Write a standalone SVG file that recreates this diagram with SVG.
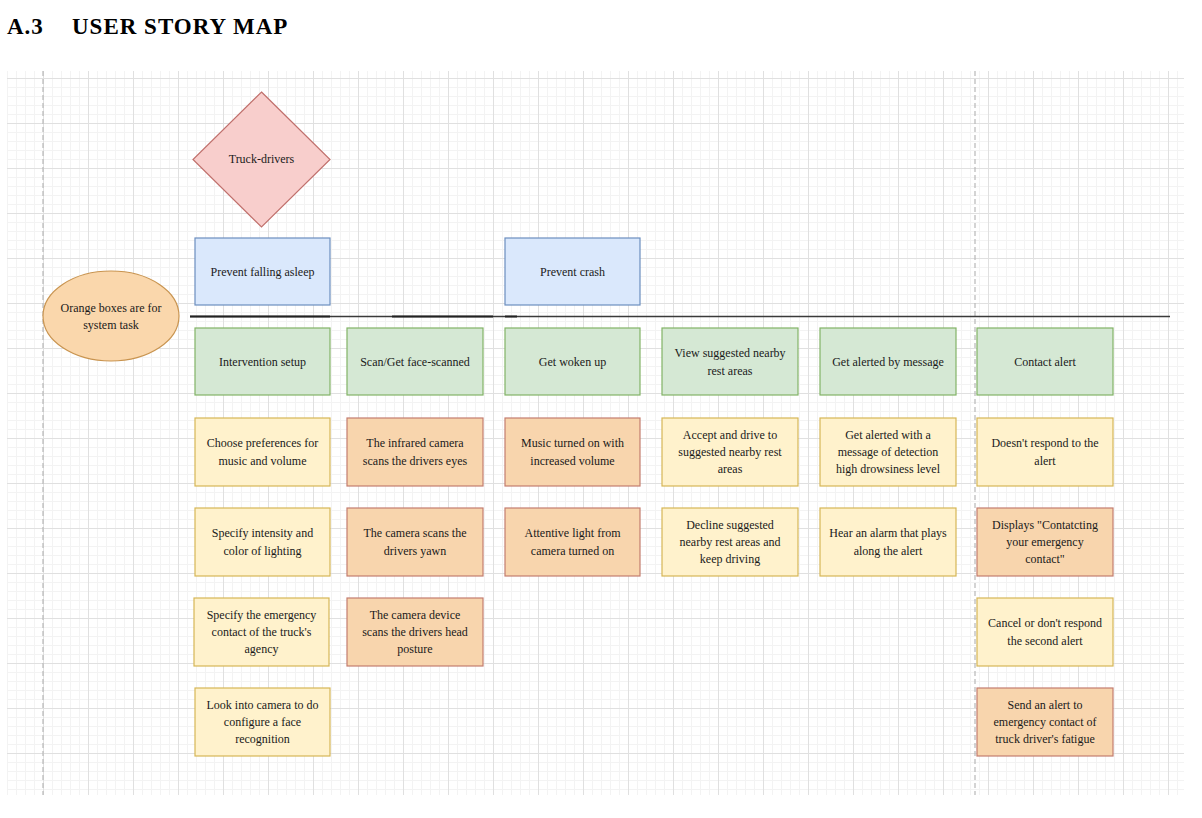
<svg xmlns="http://www.w3.org/2000/svg" width="1202" height="818" viewBox="0 0 1202 818">
<style>
text{font-family:"Liberation Serif","Times New Roman",serif;font-size:12px;fill:#1a1a1a;text-anchor:middle;dominant-baseline:central}
.title{font-size:23px;font-weight:bold;text-anchor:start;dominant-baseline:auto;fill:#000;letter-spacing:1px}
.green{fill:#d5e8d4;stroke:#82b366;stroke-width:1.2}
.blue{fill:#dae8fc;stroke:#6c8ebf;stroke-width:1.2}
.yellow{fill:#fff2cc;stroke:#d6b656;stroke-width:1.2}
.sys{fill:#f8d5ad;stroke:#c47d6f;stroke-width:1.2}
.dash{stroke:#b8b8b8;stroke-width:1.2;stroke-dasharray:5 3;fill:none}
.lane{stroke:#3a3a3a;stroke-width:1.4;fill:none}
.lane2{stroke:#222;stroke-width:2;fill:none}
</style>
<defs>
<pattern id="minor" x="43" y="78" width="9" height="9" patternUnits="userSpaceOnUse">
<rect x="0" y="0" width="9" height="1" fill="#f3f3f3"/>
<rect x="0" y="0" width="1" height="9" fill="#f3f3f3"/>
</pattern>
<pattern id="major" x="43" y="78" width="45" height="45" patternUnits="userSpaceOnUse">
<rect x="0" y="0" width="45" height="1" fill="#e0e0e0"/>
<rect x="0" y="0" width="1" height="45" fill="#e0e0e0"/>
</pattern>
</defs>
<rect width="1202" height="818" fill="#ffffff"/>
<text class="title" x="7" y="34">A.3</text>
<text class="title" x="72" y="34">USER STORY MAP</text>
<g id="grid">
<rect x="7" y="71" width="1177" height="724" fill="url(#minor)"/>
<rect x="7" y="71" width="1177" height="724" fill="url(#major)"/>
</g>
<g id="connectors">
<line class="dash" x1="43" y1="71" x2="43" y2="795"/>
<line class="dash" x1="975" y1="71" x2="975" y2="795"/>
<line class="lane" x1="190" y1="316.5" x2="1170" y2="316.5"/>
<line class="lane2" x1="190" y1="316.5" x2="330" y2="316.5"/>
<line class="lane2" x1="392" y1="316.5" x2="493" y2="316.5"/>
<line class="lane2" x1="505" y1="316.5" x2="517" y2="316.5"/>
</g>
<g id="truck-drivers">
<polygon points="261.5,92 330,159.5 261.5,227 193,159.5" fill="#f8cecc" stroke="#c0706c" stroke-width="1.2"/>
<text x="261.5" y="159">Truck-drivers</text>
</g>
<g id="legend">
<ellipse cx="111" cy="316" rx="68" ry="45" fill="#fad7ac" stroke="#c9944f" stroke-width="1.2"/>
<text x="111" y="308">Orange boxes are for</text>
<text x="111" y="325">system task</text>
</g>
<g id="prevent-falling-asleep"><rect class="blue" x="195" y="238" width="135" height="67"/><text x="262.5" y="271.5">Prevent falling asleep</text></g>
<g id="prevent-crash"><rect class="blue" x="505" y="238" width="135" height="67"/><text x="572.5" y="271.5">Prevent crash</text></g>

<g id="intervention-setup"><rect class="green" x="195" y="328" width="135" height="67"/><text x="262.5" y="361.5">Intervention setup</text></g>
<g id="scan-face"><rect class="green" x="347" y="328" width="136" height="67"/><text x="415" y="361.5">Scan/Get face-scanned</text></g>
<g id="get-woken-up"><rect class="green" x="505" y="328" width="135" height="67"/><text x="572.5" y="361.5">Get woken up</text></g>
<g id="view-rest-areas"><rect class="green" x="662" y="328" width="136" height="67"/><text x="730" y="353">View suggested nearby</text><text x="730" y="371">rest areas</text></g>
<g id="get-alerted-message"><rect class="green" x="820" y="328" width="136" height="67"/><text x="888" y="361.5">Get alerted by message</text></g>
<g id="contact-alert"><rect class="green" x="977" y="328" width="136" height="67"/><text x="1045" y="361.5">Contact alert</text></g>

<g id="choose-preferences"><rect class="yellow" x="195" y="418" width="135" height="68"/><text x="262.5" y="443">Choose preferences for</text><text x="262.5" y="461">music and volume</text></g>
<g id="infrared-camera"><rect class="sys" x="347" y="418" width="136" height="68"/><text x="415" y="443">The infrared camera</text><text x="415" y="461">scans the drivers eyes</text></g>
<g id="music-on"><rect class="sys" x="505" y="418" width="135" height="68"/><text x="572.5" y="443">Music turned on with</text><text x="572.5" y="461">increased volume</text></g>
<g id="accept-drive"><rect class="yellow" x="662" y="418" width="136" height="68"/><text x="730" y="435">Accept and drive to</text><text x="730" y="452">suggested nearby rest</text><text x="730" y="469">areas</text></g>
<g id="alerted-message-detection"><rect class="yellow" x="820" y="418" width="136" height="68"/><text x="888" y="435">Get alerted with a</text><text x="888" y="452">message of detection</text><text x="888" y="469">high drowsiness level</text></g>
<g id="doesnt-respond"><rect class="yellow" x="977" y="418" width="136" height="68"/><text x="1045" y="443">Doesn't respond to the</text><text x="1045" y="461">alert</text></g>

<g id="specify-lighting"><rect class="yellow" x="195" y="508" width="135" height="68"/><text x="262.5" y="533">Specify intensity and</text><text x="262.5" y="551">color of lighting</text></g>
<g id="camera-yawn"><rect class="sys" x="347" y="508" width="136" height="68"/><text x="415" y="533">The camera scans the</text><text x="415" y="551">drivers yawn</text></g>
<g id="attentive-light"><rect class="sys" x="505" y="508" width="135" height="68"/><text x="572.5" y="533">Attentive light from</text><text x="572.5" y="551">camera turned on</text></g>
<g id="decline-rest"><rect class="yellow" x="662" y="508" width="136" height="68"/><text x="730" y="525">Decline suggested</text><text x="730" y="542">nearby rest areas and</text><text x="730" y="559">keep driving</text></g>
<g id="hear-alarm"><rect class="yellow" x="820" y="508" width="136" height="68"/><text x="888" y="533">Hear an alarm that plays</text><text x="888" y="551">along the alert</text></g>
<g id="displays-contacting"><rect class="sys" x="977" y="508" width="136" height="68"/><text x="1045" y="525">Displays "Contatcting</text><text x="1045" y="542">your emergency</text><text x="1045" y="559">contact"</text></g>

<g id="specify-emergency"><rect class="yellow" x="194" y="598" width="135" height="68"/><text x="261.5" y="615">Specify the emergency</text><text x="261.5" y="632">contact of the truck's</text><text x="261.5" y="649">agency</text></g>
<g id="camera-head"><rect class="sys" x="347" y="598" width="136" height="68"/><text x="415" y="615">The camera device</text><text x="415" y="632">scans the drivers head</text><text x="415" y="649">posture</text></g>
<g id="cancel-second"><rect class="yellow" x="977" y="598" width="136" height="68"/><text x="1045" y="623">Cancel or don't respond</text><text x="1045" y="641">the second alert</text></g>

<g id="look-camera"><rect class="yellow" x="195" y="688" width="135" height="68"/><text x="262.5" y="705">Look into camera to do</text><text x="262.5" y="722">configure a face</text><text x="262.5" y="739">recognition</text></g>
<g id="send-alert"><rect class="sys" x="977" y="688" width="136" height="68"/><text x="1045" y="705">Send an alert to</text><text x="1045" y="722">emergency contact of</text><text x="1045" y="739">truck driver's fatigue</text></g>
</svg>
